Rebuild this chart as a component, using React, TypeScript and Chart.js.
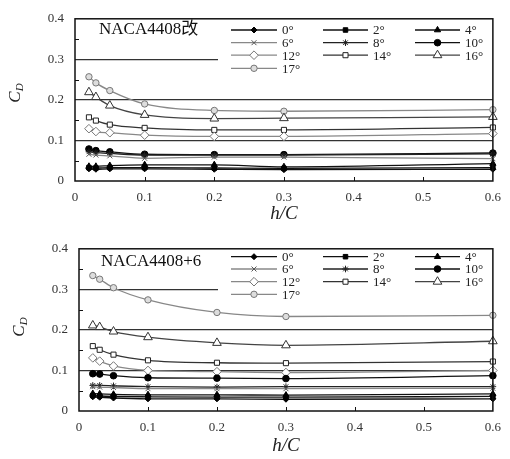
import React, { useEffect, useRef } from 'react';
import { Chart, registerables } from 'chart.js';
import { drawPoint } from 'chart.js/helpers';

Chart.register(...registerables);

// ---------- data ----------
const hc = [0.02, 0.03, 0.05, 0.1, 0.2, 0.3, 0.6];
const angleLabels = ['0°', '2°', '4°', '6°', '8°', '10°', '12°', '14°', '16°', '17°'];
const xTickLabels = ['0', '0.1', '0.2', '0.3', '0.4', '0.5', '0.6'];
const yTickLabels = ['0', '0.1', '0.2', '0.3', '0.4'];
const topTitle = 'NACA4408改';
const bottomTitle = 'NACA4408+6';

// NACA4408改
const top0 = [0.030, 0.029, 0.030, 0.030, 0.029, 0.028, 0.029];
const top2 = [0.033, 0.032, 0.033, 0.033, 0.032, 0.031, 0.033];
const top4 = [0.036, 0.036, 0.038, 0.040, 0.040, 0.035, 0.043];
const top6 = [0.066, 0.064, 0.062, 0.056, 0.059, 0.059, 0.055];
const top8 = [0.072, 0.070, 0.068, 0.064, 0.064, 0.064, 0.067];
const top10 = [0.079, 0.075, 0.072, 0.066, 0.065, 0.065, 0.069];
const top12 = [0.129, 0.122, 0.119, 0.113, 0.110, 0.110, 0.117];
const top14 = [0.157, 0.149, 0.139, 0.131, 0.126, 0.126, 0.132];
const top16 = [0.219, 0.207, 0.186, 0.163, 0.154, 0.155, 0.158];
const top17 = [0.257, 0.242, 0.223, 0.190, 0.174, 0.172, 0.176];

// NACA4408+6
const bot0 = [0.035, 0.034, 0.032, 0.030, 0.030, 0.029, 0.030];
const bot2 = [0.038, 0.037, 0.036, 0.035, 0.034, 0.034, 0.036];
const bot4 = [0.043, 0.042, 0.041, 0.040, 0.040, 0.039, 0.042];
const bot6 = [0.060, 0.059, 0.058, 0.055, 0.055, 0.055, 0.056];
const bot8 = [0.063, 0.063, 0.062, 0.060, 0.059, 0.060, 0.060];
const bot10 = [0.092, 0.091, 0.087, 0.082, 0.081, 0.080, 0.087];
const bot12 = [0.131, 0.123, 0.111, 0.100, 0.097, 0.095, 0.100];
const bot14 = [0.160, 0.151, 0.139, 0.125, 0.119, 0.118, 0.122];
const bot16 = [0.211, 0.207, 0.196, 0.182, 0.168, 0.162, 0.172];
const bot17 = [0.334, 0.325, 0.304, 0.274, 0.243, 0.233, 0.236];

const topSeries = [top0, top2, top4, top6, top8, top10, top12, top14, top16, top17];
const bottomSeries = [bot0, bot2, bot4, bot6, bot8, bot10, bot12, bot14, bot16, bot17];

// ---------- styles ----------
const markerStyles = [
  { ps: 'rectRot', r: 3, fill: '#000', stroke: '#000', line: '#111' },
  { ps: 'rect', r: 3.2, fill: '#000', stroke: '#000', line: '#111' },
  { ps: 'triangle', r: 3.6, fill: '#000', stroke: '#000', line: '#111' },
  { ps: 'crossRot', r: 3.5, fill: '#555', stroke: '#555', line: '#888' },
  { ps: 'star', r: 3.3, fill: '#222', stroke: '#222', line: '#222' },
  { ps: 'circle', r: 3.3, fill: '#000', stroke: '#000', line: '#111' },
  { ps: 'rectRot', r: 4.3, fill: '#fff', stroke: '#777', line: '#888' },
  { ps: 'rect', r: 3.6, fill: '#fff', stroke: '#222', line: '#333' },
  { ps: 'triangle', r: 5, fill: '#fff', stroke: '#333', line: '#444' },
  { ps: 'circle', r: 3.2, fill: '#ddd', stroke: '#777', line: '#888' },
];

const SERIF = '"Liberation Serif", "DejaVu Serif", serif';
const CJK = '"Liberation Serif", "Noto Sans CJK SC", serif';

type Layout = {
  h: number; yw: number; xh: number; top: number; right: number;
  titleX: number; titleY: number; rows: number[];
  box: [number, number, number, number];
  cdX: number; cdY: number; hcY: number;
};

const topLayout: Layout = {
  h: 230, yw: 75, xh: 49, top: 16, right: 11,
  titleX: 99, titleY: 29, rows: [30, 42.7, 55.2, 68.3],
  box: [218, 18, 276, 58], cdX: 15, cdY: 93, hcY: 214,
};
const bottomLayout: Layout = {
  h: 229, yw: 79, xh: 48, top: 18, right: 11,
  titleX: 101, titleY: 31, rows: [26.7, 39, 51.7, 64.3],
  box: [218, 19, 276, 55], cdX: 19, cdY: 97, hcY: 216,
};

const legendCols = [
  [231, 277],
  [323, 368],
  [415, 460],
];

function decorPlugin(title: string, L: Layout) {
  return {
    id: 'decor',
    beforeDatasetsDraw(chart: any) {
      const ctx = chart.ctx as CanvasRenderingContext2D;
      ctx.save();
      ctx.fillStyle = '#fff';
      ctx.fillRect(L.box[0], L.box[1], L.box[2], L.box[3]);
      ctx.font = `13px ${SERIF}`;
      ctx.textBaseline = 'middle';
      ctx.textAlign = 'left';
      angleLabels.forEach((lab, i) => {
        const row = Math.floor(i / 3);
        const col = i % 3;
        const [x1, x2] = legendCols[col];
        const y = L.rows[row];
        const st = markerStyles[i];
        ctx.strokeStyle = st.line;
        ctx.lineWidth = 1.3;
        ctx.beginPath();
        ctx.moveTo(x1, y);
        ctx.lineTo(x2, y);
        ctx.stroke();
        ctx.fillStyle = st.fill;
        ctx.strokeStyle = st.stroke;
        ctx.lineWidth = 1;
        drawPoint(ctx, { pointStyle: st.ps, radius: st.r, rotation: 0, borderWidth: 1 } as any, (x1 + x2) / 2, y);
        ctx.fillStyle = '#222';
        ctx.fillText(lab, x2 + 5, y + 1);
      });
      ctx.fillStyle = '#111';
      ctx.font = `17px ${CJK}`;
      ctx.fillText(title, L.titleX, L.titleY + 1);
      ctx.restore();
    },
    afterDraw(chart: any) {
      const ctx = chart.ctx as CanvasRenderingContext2D;
      const { left, right, top, bottom } = chart.chartArea;
      const ys = chart.scales.y;
      const xs = chart.scales.x;
      ctx.save();
      ctx.strokeStyle = '#111';
      ctx.lineWidth = 1;
      [0.05, 0.15, 0.25, 0.35].forEach((v) => {
        const y = Math.round(ys.getPixelForValue(v)) + 0.5;
        ctx.beginPath();
        ctx.moveTo(left, y);
        ctx.lineTo(left + 4, y);
        ctx.stroke();
      });
      [0.1, 0.2, 0.3, 0.4, 0.5].forEach((v) => {
        const x = Math.round(xs.getPixelForValue(v)) + 0.5;
        ctx.beginPath();
        ctx.moveTo(x, bottom);
        ctx.lineTo(x, bottom - 4);
        ctx.stroke();
      });
      ctx.lineWidth = 1.5;
      ctx.strokeStyle = '#111';
      ctx.strokeRect(left, top, right - left, bottom - top);
      // y title C_D
      ctx.fillStyle = '#222';
      ctx.translate(L.cdX, L.cdY);
      ctx.rotate(-Math.PI / 2);
      ctx.textBaseline = 'alphabetic';
      ctx.textAlign = 'left';
      ctx.font = `italic 17px ${SERIF}`;
      const cw = ctx.measureText('C').width;
      ctx.font = `italic 11px ${SERIF}`;
      const dw = ctx.measureText('D').width;
      const start = -(cw + dw) / 2;
      ctx.font = `italic 17px ${SERIF}`;
      ctx.fillText('C', start, 5);
      ctx.font = `italic 11px ${SERIF}`;
      ctx.fillText('D', start + cw, 8);
      ctx.setTransform(1, 0, 0, 1, 0, 0);
      // x title h/C
      ctx.font = `italic 19px ${SERIF}`;
      ctx.textAlign = 'center';
      ctx.textBaseline = 'middle';
      ctx.fillText('h/C', (left + right) / 2, L.hcY);
      ctx.restore();
    },
  };
}

function buildConfig(series: number[][], title: string, L: Layout): any {
  const tickFont = { family: SERIF, size: 13 };
  return {
    type: 'line',
    data: {
      datasets: series.map((vals, i) => ({
        label: angleLabels[i],
        data: hc.map((x, j) => ({ x, y: vals[j] })),
        borderColor: markerStyles[i].line,
        borderWidth: 1.3,
        pointStyle: markerStyles[i].ps,
        pointRadius: markerStyles[i].r,
        pointBackgroundColor: markerStyles[i].fill,
        pointBorderColor: markerStyles[i].stroke,
        pointBorderWidth: 1,
        cubicInterpolationMode: 'monotone',
        fill: false,
        clip: false,
      })),
    },
    options: {
      responsive: false,
      animation: false,
      devicePixelRatio: 1,
      layout: { padding: { top: L.top, right: L.right, left: 0, bottom: 0 } },
      plugins: { legend: { display: false }, tooltip: { enabled: false } },
      scales: {
        x: {
          type: 'linear',
          min: 0,
          max: 0.6,
          ticks: {
            stepSize: 0.1,
            autoSkip: false,
            maxRotation: 0,
            padding: 9,
            color: '#333',
            font: tickFont,
            callback: (_v: any, i: number) => xTickLabels[i],
          },
          grid: { display: false, drawTicks: false },
          border: { display: false },
          afterFit: (s: any) => { s.height = L.xh; },
        },
        y: {
          min: 0,
          max: 0.4,
          ticks: {
            stepSize: 0.1,
            padding: 11,
            color: '#333',
            font: tickFont,
            callback: (_v: any, i: number) => yTickLabels[i],
          },
          grid: {
            drawTicks: false,
            lineWidth: 1.3,
            color: (c: any) => {
              const v = c.tick ? c.tick.value : 0;
              return v > 0.05 && v < 0.35 ? '#333' : 'rgba(0,0,0,0)';
            },
          },
          border: { display: false },
          afterFit: (s: any) => { s.width = L.yw; },
        },
      },
    },
    plugins: [decorPlugin(title, L)],
  };
}

function CdChart({ series, title, layout }: { series: number[][]; title: string; layout: Layout }) {
  const ref = useRef<HTMLCanvasElement>(null);
  useEffect(() => {
    const chart = new Chart(ref.current as HTMLCanvasElement, buildConfig(series, title, layout));
    return () => chart.destroy();
  }, [series, title, layout]);
  return (
    <canvas
      ref={ref}
      width={510}
      height={layout.h}
      style={{ display: 'block', width: 510, height: layout.h }}
    />
  );
}

export default function App() {
  return (
    <div style={{ position: 'absolute', left: 0, top: 0, width: 510, height: 459, background: '#fff' }}>
      <CdChart series={topSeries} title={topTitle} layout={topLayout} />
      <CdChart series={bottomSeries} title={bottomTitle} layout={bottomLayout} />
    </div>
  );
}
